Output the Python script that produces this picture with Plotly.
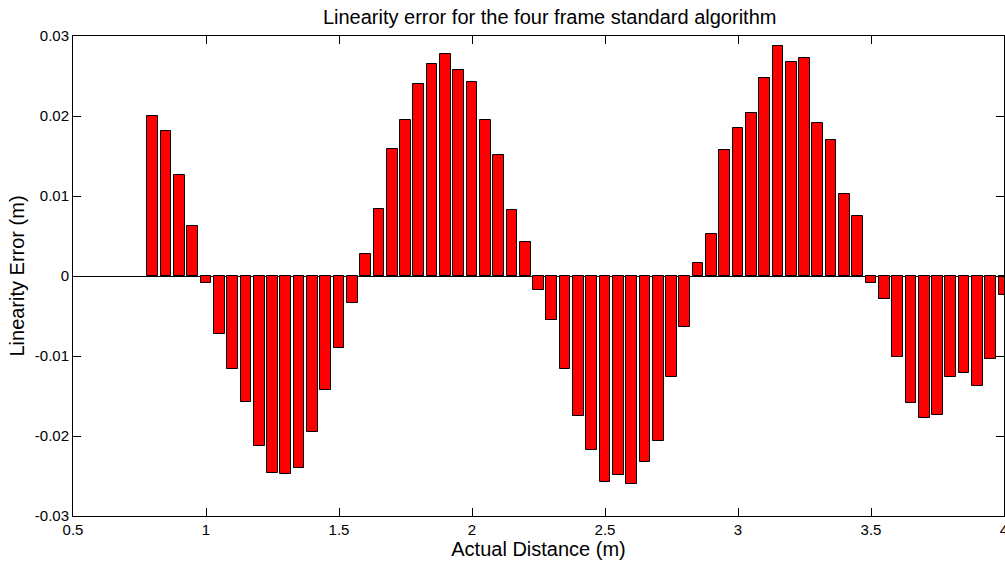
import plotly.graph_objects as go

# actual distance (m), one bar every 0.05 m
distance = [round(0.8 + 0.05 * i, 2) for i in range(65)]

linearity_error = [
    0.0200, 0.0181, 0.0126, 0.0062,
    -0.0009, -0.0072, -0.0116, -0.0158, -0.0213, -0.0246, -0.0248, -0.0240,
    -0.0195, -0.0142, -0.0090, -0.0034,
    0.0028, 0.0084, 0.0159, 0.0195, 0.0240, 0.0265, 0.0278, 0.0257,
    0.0242, 0.0195, 0.0151, 0.0082, 0.0042,
    -0.0018, -0.0055, -0.0116, -0.0175, -0.0218, -0.0258, -0.0249, -0.0260,
    -0.0232, -0.0206, -0.0126, -0.0064,
    0.0016, 0.0052, 0.0157, 0.0185, 0.0204, 0.0248, 0.0288, 0.0268,
    0.0273, 0.0191, 0.0170, 0.0103, 0.0075,
    -0.0009, -0.0029, -0.0101, -0.0159, -0.0178, -0.0174, -0.0126, -0.0121,
    -0.0138, -0.0104, -0.0024,
]

x_ticks = [0.5, 1, 1.5, 2, 2.5, 3, 3.5, 4]
x_ticktext = ["0.5", "1", "1.5", "2", "2.5", "3", "3.5", "4"]
y_ticks = [-0.03, -0.02, -0.01, 0, 0.01, 0.02, 0.03]
y_ticktext = ["-0.03", "-0.02", "-0.01", "0", "0.01", "0.02", "0.03"]

fig = go.Figure()
fig.add_trace(go.Bar(
    x=distance,
    y=linearity_error,
    width=0.04,
    marker=dict(color="#FF0000", line=dict(color="black", width=1)),
    showlegend=False,
))

axis_common = dict(
    showline=True,
    linecolor="black",
    linewidth=1,
    mirror="ticks",
    ticks="inside",
    ticklen=8,
    tickcolor="black",
    showgrid=False,
    automargin=False,
    ticklabeloverflow="allow",
    tickfont=dict(size=15, color="black"),
)

fig.update_layout(
    title=dict(
        text="Linearity error for the four frame standard algorithm",
        xref="paper", x=0.512, xanchor="center",
        y=1 - 17 / 562, yanchor="middle",
        font=dict(size=20, color="black"),
    ),
    font=dict(family="Liberation Sans, Arial, sans-serif", color="black"),
    width=1005,
    height=562,
    margin=dict(l=73, r=1, t=36, b=46),
    plot_bgcolor="white",
    paper_bgcolor="white",
    bargap=0,
    xaxis=dict(
        range=[0.5, 4],
        tickvals=x_ticks,
        ticktext=x_ticktext,
        zeroline=False,
        ticklabelstandoff=0,
        title=dict(text="Actual Distance (m)", font=dict(size=20), standoff=0),
        **axis_common,
    ),
    yaxis=dict(
        range=[-0.03, 0.03],
        tickvals=y_ticks,
        ticktext=y_ticktext,
        zeroline=True,
        zerolinecolor="black",
        zerolinewidth=1,
        title=dict(text="Linearity Error (m)", font=dict(size=20), standoff=4),
        **axis_common,
    ),
)

# drop the default body margin so the figure fills the window exactly
fig.write_html(
    "out.html",
    config={"displayModeBar": False},
    post_script="document.body.style.margin='0';document.body.style.overflow='hidden';",
)
